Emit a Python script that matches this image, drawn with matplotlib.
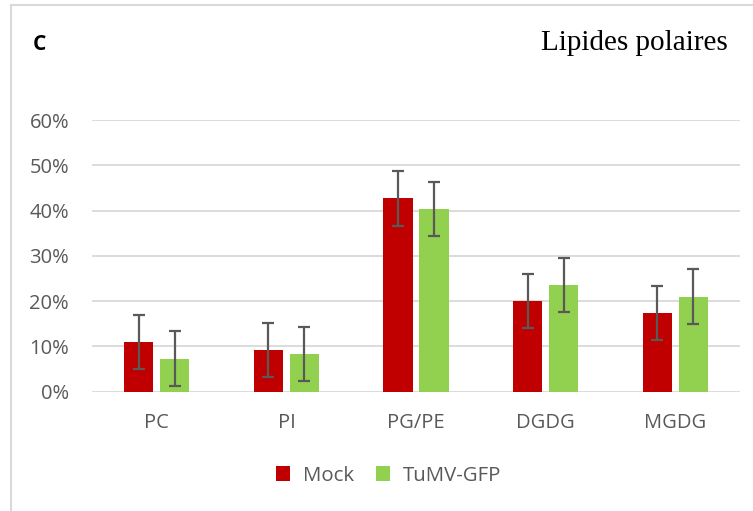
import matplotlib
matplotlib.use("Agg")
import matplotlib.pyplot as plt
from matplotlib.patches import Patch
from matplotlib.lines import Line2D
import numpy as np

categories = ["PC", "PI", "PG/PE", "DGDG", "MGDG"]
mock = [11.0, 9.2, 42.7, 20.1, 17.4]
tumv = [7.3, 8.3, 40.3, 23.6, 21.0]
mock_err = [6.0, 6.0, 6.0, 6.0, 6.0]
tumv_err = [6.0, 6.0, 6.0, 6.0, 6.0]
series_names = ["Mock", "TuMV-GFP"]
yticks = [0, 10, 20, 30, 40, 50, 60]
title = "Lipides polaires"
panel = "C"

red = "#c00000"
green = "#92d050"
txt = "#595959"
grid = "#d9d9d9"

W, H = 753, 511
fig = plt.figure(figsize=(W / 100, H / 100), dpi=100)
ax = fig.add_axes([92 / W, (H - 391.7) / H, (740 - 92) / W, (391.7 - 120) / H])

x = np.arange(len(categories))
bw = 0.224
off = 0.139
ax.bar(x - off, mock, bw, color=red, zorder=3)
ax.bar(x + off, tumv, bw, color=green, zorder=3)
ax.errorbar(x - off, mock, yerr=mock_err, fmt="none", ecolor="#595959",
            elinewidth=1.6, capsize=4.4, capthick=1.6, zorder=4)
ax.errorbar(x + off, tumv, yerr=tumv_err, fmt="none", ecolor="#595959",
            elinewidth=1.6, capsize=4.4, capthick=1.6, zorder=4)

ax.set_xlim(-0.5, len(categories) - 0.5)
ax.set_ylim(0, 60)
ax.set_yticks(yticks)
ax.set_yticklabels([f"{v}%" for v in yticks])
ax.set_xticks(x)
ax.set_xticklabels(categories)
for s in ax.spines.values():
    s.set_visible(False)
ax.yaxis.grid(True, color=grid, linewidth=1.3, zorder=0)
ax.tick_params(axis="both", length=0, colors=txt, labelsize=14.5)
ax.tick_params(axis="y", pad=16.5)
ax.tick_params(axis="x", pad=15.3)
for lab in ax.get_xticklabels() + ax.get_yticklabels():
    lab.set_family("Open Sans")

fig.text(33 / W, 1 - 50 / H, panel, fontsize=15, fontweight="bold",
         family="Open Sans", va="baseline", ha="left", color="black")
fig.text(728 / W, 1 - 50.5 / H, title, fontsize=21, family="Liberation Serif",
         va="baseline", ha="right", color="black")

handles = [Patch(facecolor=red, edgecolor="none"), Patch(facecolor=green, edgecolor="none")]
leg = fig.legend(handles, series_names, loc="center", bbox_to_anchor=(388.5 / W, 1 - 475.5 / H),
                 ncol=2, frameon=False, handlelength=0.7, handleheight=0.7,
                 handletextpad=0.6, columnspacing=1.1, borderpad=0,
                 prop={"family": "Open Sans", "size": 14.7})
for t in leg.get_texts():
    t.set_color(txt)

fig.add_artist(Line2D([10.5 / W, 10.5 / W], [0, 1 - 5 / H], transform=fig.transFigure,
                      color=grid, linewidth=1.5))
fig.add_artist(Line2D([10.5 / W, 1], [1 - 5 / H, 1 - 5 / H], transform=fig.transFigure,
                      color=grid, linewidth=1.5))

fig.savefig("out.png", dpi=100, facecolor="white")
